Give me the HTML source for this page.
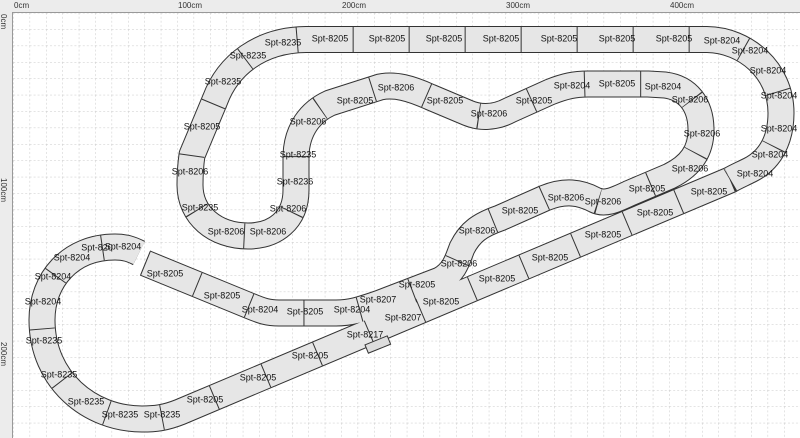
<!DOCTYPE html>
<html><head><meta charset="utf-8"><style>
html,body{margin:0;padding:0;background:#fff;}
svg{display:block;}
text{font-family:"Liberation Sans",sans-serif;font-size:9px;fill:#111;text-anchor:middle;dominant-baseline:middle;}
.r{font-size:8px;fill:#333;text-anchor:start;}
</style></head><body>
<svg width="800" height="438" viewBox="0 0 800 438" xmlns="http://www.w3.org/2000/svg">
<defs>
<pattern id="g" x="13.2" y="12.8" width="16.4" height="16.4" patternUnits="userSpaceOnUse">
<path d="M0 0V16.4M0 0H16.4" stroke="#c8c8c8" stroke-width="1" stroke-dasharray="2 2" fill="none"/>
</pattern>
<path id="t1" d="M145,263 L250,306 C262,311 268,313 279,313 L336,313 C350,313 360,310 380,303 L440,280 C455,272 458,258 462,248 C470,232 480,225 500,218 L545,198 C565,190 580,192 595,200 C605,205 615,200 630,193 L670,176 C690,166 701,152 701,130 C701,105 688,88 665,85 L648,84 L588,84 C575,84 565,86 550,92 L510,110 C495,118 480,118 468,113 L430,97 C410,88 395,84 380,87 L330,103 C310,112 297,130 296,155 L296,190 C296,220 275,236 248,236 C215,236 190,215 190,185 C190,170 191,162 192,155 L215,100 C228,65 260,40 306,39.5 L707,39.5 C745,40 781,70 781,113 C781,140 770,160 750,170 C742,174 735,177 730,180 L180,412 C165,418 155,419 142,419 C90,419 42,380 42,320 C42,280 70,247 115,247 C125,247 131,249 139,253"/>
</defs>
<rect x="0" y="0" width="800" height="438" fill="#fff"/>
<rect x="13" y="13" width="787" height="425" fill="url(#g)"/>
<rect x="0" y="0" width="800" height="12" fill="#ececec"/>
<rect x="0" y="0" width="12" height="438" fill="#ececec"/>
<line x1="12" y1="12.5" x2="800" y2="12.5" stroke="#999"/>
<line x1="12.5" y1="12" x2="12.5" y2="438" stroke="#999"/>
<text class="r" x="14" y="6">0cm</text>
<text class="r" x="178" y="6">100cm</text>
<text class="r" x="342" y="6">200cm</text>
<text class="r" x="506" y="6">300cm</text>
<text class="r" x="670" y="6">400cm</text>
<text class="r" transform="translate(3,14) rotate(90)">0cm</text>
<text class="r" transform="translate(3,178) rotate(90)">100cm</text>
<text class="r" transform="translate(3,342) rotate(90)">200cm</text>

<g fill="none" stroke-linejoin="round">
<use href="#t1" stroke="#333" stroke-width="27"/>
<use href="#t1" stroke="#e6e6e6" stroke-width="25"/>
<use href="#t1" stroke="#333" stroke-width="25" stroke-dasharray="1 55"/>
</g>
<rect x="366" y="340" width="24" height="9" fill="#ddd" stroke="#333" transform="rotate(-22 378 345)"/>

<text x="283" y="43">Spt-8235</text>
<text x="248" y="56">Spt-8235</text>
<text x="223" y="82">Spt-8235</text>
<text x="202" y="127">Spt-8205</text>
<text x="190" y="172">Spt-8206</text>
<text x="200" y="208">Spt-8235</text>
<text x="226" y="232">Spt-8206</text>
<text x="268" y="232">Spt-8206</text>
<text x="288" y="209">Spt-8206</text>
<text x="295" y="182">Spt-8236</text>
<text x="298" y="155">Spt-8235</text>
<text x="308" y="122">Spt-8206</text>
<text x="355" y="101">Spt-8205</text>
<text x="396" y="88">Spt-8206</text>
<text x="445" y="101">Spt-8205</text>
<text x="489" y="114">Spt-8206</text>
<text x="534" y="101">Spt-8205</text>
<text x="572" y="86">Spt-8204</text>
<text x="617" y="84">Spt-8205</text>
<text x="663" y="87">Spt-8204</text>
<text x="690" y="100">Spt-8206</text>
<text x="702" y="134">Spt-8206</text>
<text x="690" y="169">Spt-8206</text>
<text x="647" y="189">Spt-8205</text>
<text x="603" y="202">Spt-8206</text>
<text x="566" y="198">Spt-8206</text>
<text x="520" y="211">Spt-8205</text>
<text x="477" y="231">Spt-8206</text>
<text x="459" y="264">Spt-8206</text>
<text x="417" y="285">Spt-8205</text>
<text x="378" y="300">Spt-8207</text>
<text x="352" y="310">Spt-8204</text>
<text x="305" y="312">Spt-8205</text>
<text x="260" y="310">Spt-8204</text>
<text x="222" y="296">Spt-8205</text>
<text x="165" y="274">Spt-8205</text>
<text x="123" y="247">Spt-8204</text>
<text x="97" y="248">Spt-820</text>
<text x="72" y="258">Spt-8204</text>
<text x="53" y="277">Spt-8204</text>
<text x="43" y="302">Spt-8204</text>
<text x="44" y="341">Spt-8235</text>
<text x="59" y="375">Spt-8235</text>
<text x="86" y="402">Spt-8235</text>
<text x="120" y="415">Spt-8235</text>
<text x="162" y="415">Spt-8235</text>
<text x="205" y="400">Spt-8205</text>
<text x="258" y="378">Spt-8205</text>
<text x="310" y="356">Spt-8205</text>
<text x="365" y="335">Spt-8217</text>
<text x="403" y="318">Spt-8207</text>
<text x="441" y="302">Spt-8205</text>
<text x="497" y="279">Spt-8205</text>
<text x="550" y="258">Spt-8205</text>
<text x="603" y="235">Spt-8205</text>
<text x="655" y="213">Spt-8205</text>
<text x="709" y="192">Spt-8205</text>
<text x="755" y="174">Spt-8204</text>
<text x="770" y="155">Spt-8204</text>
<text x="779" y="129">Spt-8204</text>
<text x="779" y="96">Spt-8204</text>
<text x="768" y="71">Spt-8204</text>
<text x="750" y="51">Spt-8204</text>
<text x="722" y="41">Spt-8204</text>
<text x="330" y="39">Spt-8205</text>
<text x="387" y="39">Spt-8205</text>
<text x="444" y="39">Spt-8205</text>
<text x="501" y="39">Spt-8205</text>
<text x="559" y="39">Spt-8205</text>
<text x="617" y="39">Spt-8205</text>
<text x="674" y="39">Spt-8205</text>
</svg>
</body></html>
